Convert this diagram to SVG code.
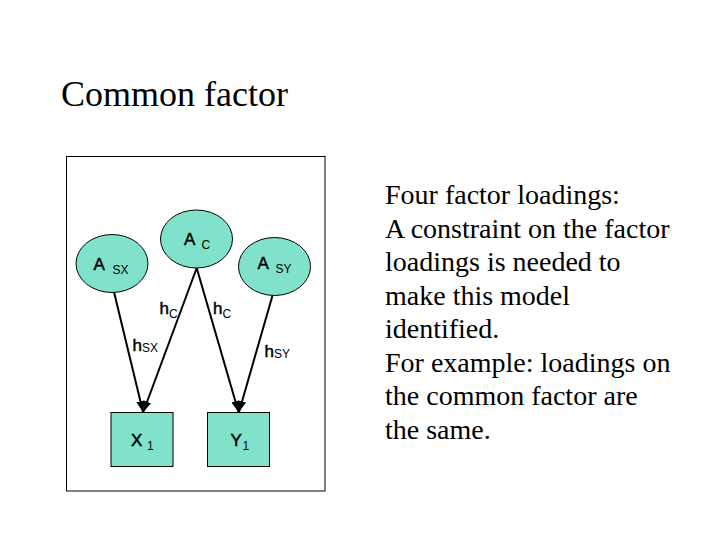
<svg xmlns="http://www.w3.org/2000/svg" width="720" height="540" viewBox="0 0 720 540">
<style>
.node{fill:#80E2CA;stroke:#000;stroke-width:1}
.lbl{font-family:"Liberation Sans",Arial,sans-serif;font-size:17px;fill:#000;stroke:#000;stroke-width:0.45}
.sub{font-family:"Liberation Sans",Arial,sans-serif;font-size:12px;fill:#000;stroke:none}
.ser{font-family:"Liberation Serif","Times New Roman",serif;fill:#000}
.edge{stroke:#000;stroke-width:2;fill:none;marker-end:url(#ah)}
</style>
<defs>
<marker id="ah" markerUnits="userSpaceOnUse" markerWidth="12" markerHeight="10" viewBox="0 0 12 10" refX="11" refY="5" orient="auto">
<path d="M0,0.8 L11,5 L0,9.2 Z" fill="#000"/>
</marker>
</defs>
<rect width="720" height="540" fill="#fff"/>
<text class="ser" x="61" y="106" font-size="36">Common factor</text>
<rect x="66.5" y="156.5" width="258.5" height="334.5" fill="none" stroke="#000" stroke-width="1"/>
<g id="connectors">
<line class="edge" x1="114" y1="292" x2="143" y2="412"/>
<line class="edge" x1="196.7" y1="268" x2="143.3" y2="412"/>
<line class="edge" x1="196.7" y1="268" x2="238.5" y2="412"/>
<line class="edge" x1="273.3" y1="292.7" x2="239" y2="412"/>
<text class="lbl" x="159.5" y="313.5">h<tspan class="sub" dy="4.5">C</tspan></text>
<text class="lbl" x="213" y="313.5">h<tspan class="sub" dy="4.5">C</tspan></text>
<text class="lbl" x="132.5" y="351">h<tspan class="sub" dy="1" font-size="11.5px">SX</tspan></text>
<text class="lbl" x="264.5" y="356.7">h<tspan class="sub" dy="1" font-size="11.5px">SY</tspan></text>
</g>
<g id="A_SX">
<ellipse class="node" cx="112" cy="263.5" rx="36" ry="29"/>
<text class="lbl" x="93.5" y="270">A<tspan class="sub" x="112.5" dy="4">SX</tspan></text>
</g>
<g id="A_C">
<ellipse class="node" cx="196.5" cy="239" rx="36" ry="29"/>
<text class="lbl" x="184" y="245">A<tspan class="sub" x="201.5" dy="4">C</tspan></text>
</g>
<g id="A_SY">
<ellipse class="node" cx="274.5" cy="266.5" rx="36" ry="29"/>
<text class="lbl" x="257.5" y="268.5">A<tspan class="sub" x="275.5" dy="4">SY</tspan></text>
</g>
<g id="X1">
<rect class="node" x="111" y="412.5" width="62" height="54"/>
<text class="lbl" x="131" y="446">X<tspan class="sub" x="147" dy="4">1</tspan></text>
</g>
<g id="Y1">
<rect class="node" x="207.5" y="412.5" width="62" height="54"/>
<text class="lbl" x="230.5" y="446">Y<tspan class="sub" x="242.5" dy="4">1</tspan></text>
</g>
<g id="notes" class="ser" font-size="28">
<text x="385" y="204">Four factor loadings:</text>
<text x="385" y="237.5">A constraint on the factor</text>
<text x="385" y="271">loadings is needed to</text>
<text x="385" y="304.5">make this model</text>
<text x="385" y="338">identified.</text>
<text x="385" y="371.5">For example: loadings on</text>
<text x="385" y="405">the common factor are</text>
<text x="385" y="438.5">the same.</text>
</g>
</svg>
